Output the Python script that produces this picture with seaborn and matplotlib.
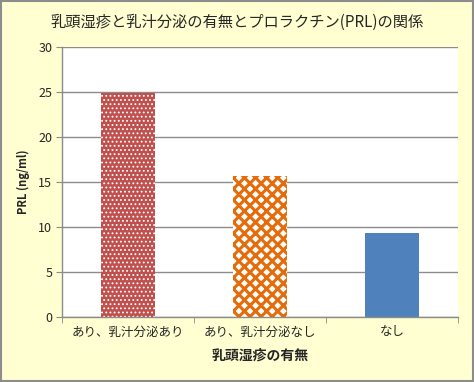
import matplotlib
matplotlib.use("Agg")
import matplotlib.pyplot as plt
import seaborn as sns
import pandas as pd
from matplotlib.patches import Rectangle

categories = ["あり、乳汁分泌あり", "あり、乳汁分泌なし", "なし"]
prl_values = [24.9, 15.7, 9.3]
y_ticks = [0, 5, 10, 15, 20, 25, 30]

sns.set_style("white")
plt.rcParams['font.family'] = ['Noto Sans CJK JP', 'DejaVu Sans']

df = pd.DataFrame({"cat": categories, "val": prl_values})

fig = plt.figure(figsize=(4.74, 3.82), dpi=100)
fig.patch.set_facecolor("#FFFFD1")
fig.patches.append(Rectangle((0.002, 0.003), 0.995, 0.994, transform=fig.transFigure,
                             fill=False, edgecolor="#8C8C8C", linewidth=1.5))
ax = fig.add_axes([0.131, 0.170, 0.835, 0.707])
ax.set_facecolor("white")

sns.barplot(data=df, x="cat", y="val", ax=ax, width=0.41, saturation=1,
            palette=["#C0504D", "#E46C0A", "#4F81BD"], hue="cat", legend=False)

bars = ax.patches
bars[0].set_facecolor("#C0504D")
bars[0].set_hatch("....")
bars[0].set_edgecolor("white")
bars[0].set_linewidth(0)
bars[1].set_facecolor("white")
bars[1].set_hatch("xxx")
bars[1].set_edgecolor("#E46C0A")
bars[1].set_linewidth(0)
if hasattr(bars[1], "set_hatch_linewidth"):
    bars[0].set_hatch_linewidth(0.8)
    bars[1].set_hatch_linewidth(2.2)
bars[2].set_edgecolor("#4F81BD")
bars[2].set_linewidth(0)

ax.set_ylim(0, 30)
ax.set_xlim(-0.5, 2.5)
ax.set_yticks(y_ticks)
ax.yaxis.grid(True, color="#8C8C8C", linewidth=1)
ax.set_axisbelow(True)
for s in ["top", "right"]:
    ax.spines[s].set_visible(False)
for s in ["left", "bottom"]:
    ax.spines[s].set_color("#8C8C8C")
    ax.spines[s].set_linewidth(1)

ax.tick_params(axis="y", which="major", length=4, color="#8C8C8C", direction="out",
               labelsize=9, pad=3, left=True)
ax.set_xticks([0, 1, 2])
ax.set_xticks([-0.5, 0.5, 1.5, 2.5], minor=True)
ax.tick_params(axis="x", which="major", length=0, labelsize=9, pad=6)
ax.tick_params(axis="x", which="minor", length=4, color="#8C8C8C", direction="out", bottom=True)

ax.set_xlabel("乳頭湿疹の有無", fontsize=10, fontweight="bold", labelpad=7)
ax.set_ylabel("PRL (ng/ml)", fontsize=8, fontweight="bold", labelpad=6)
fig.suptitle("乳頭湿疹と乳汁分泌の有無とプロラクチン(PRL)の関係", fontsize=11, y=0.963)

fig.savefig("out.png", dpi=100, facecolor=fig.get_facecolor())
